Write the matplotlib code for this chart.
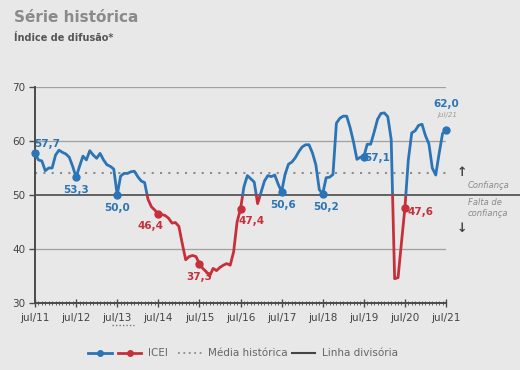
import numpy as np
import matplotlib
matplotlib.use("Agg")
import matplotlib.pyplot as plt
from matplotlib.lines import Line2D

plt.rcParams['font.family'] = ['Liberation Sans Narrow', 'DejaVu Sans']

# ICEI monthly, jul/11 .. jul/21
icei = [57.7, 56.5, 56.3, 54.5, 55.0, 55.0, 57.4, 58.3, 57.9, 57.6, 57.0, 55.3,
        53.3, 55.3, 57.2, 56.5, 58.2, 57.4, 56.8, 57.7, 56.5, 55.6, 55.3, 54.8,
        50.0, 53.5, 54.0, 54.0, 54.3, 54.4, 53.4, 52.6, 52.3, 49.2, 47.8, 47.2,
        46.4, 46.4, 46.2, 45.7, 44.8, 44.9, 44.2, 41.0, 38.0, 38.6, 38.8, 38.6,
        37.3, 36.4, 35.8, 35.0, 36.4, 36.0, 36.6, 37.0, 37.3, 37.0, 39.5, 45.0,
        47.4, 51.5, 53.6, 53.0, 52.4, 48.4, 50.5, 52.6, 53.6, 53.4, 53.7, 52.0,
        50.6, 53.8, 55.7, 56.1, 56.9, 58.0, 58.9, 59.3, 59.3, 57.8, 55.6, 51.0,
        50.2, 53.2, 53.3, 53.8, 63.3, 64.2, 64.6, 64.6, 62.5, 59.8, 56.6, 57.0,
        57.1, 59.4, 59.4, 61.6, 64.0, 65.1, 65.2, 64.5, 60.3, 34.5, 34.7, 41.2,
        47.6, 56.5, 61.5, 61.9, 62.9, 63.1, 61.0, 59.5, 55.0, 53.7, 57.7, 61.4,
        62.0]
tick_labels = ['jul/11', 'jul/12', 'jul/13', 'jul/14', 'jul/15', 'jul/16',
               'jul/17', 'jul/18', 'jul/19', 'jul/20', 'jul/21']
media = 54.0
divisoria = 50.0

blue = '#2b74b6'
red = '#c7303b'
bg = '#e8e8e8'
dark = '#4a4a4a'


def split_runs(x, y, thr):
    runs = []
    side = y[0] >= thr
    xs, ys = [x[0]], [y[0]]
    for i in range(1, len(x)):
        s = y[i] >= thr
        if s != side:
            t = (thr - y[i - 1]) / (y[i] - y[i - 1])
            xc = x[i - 1] + t * (x[i] - x[i - 1])
            xs.append(xc); ys.append(thr)
            runs.append((side, xs, ys))
            xs, ys = [xc], [thr]
            side = s
        xs.append(x[i]); ys.append(y[i])
    runs.append((side, xs, ys))
    return runs


x = np.arange(len(icei))
y = np.array(icei)

fig = plt.figure(figsize=(5.2, 3.7), dpi=100, facecolor=bg)
ax = fig.add_axes([35 / 520, 1 - 303 / 370, 411 / 520, 216 / 370], facecolor=bg)

for v in [40, 60, 70]:
    ax.axhline(v, color='#a0a0a0', lw=0.9, zorder=1)
ax.axhline(media, color='#8c8c8c', lw=1.5, ls=(0, (1, 3)), zorder=1)
ax.axhline(divisoria, xmin=0, xmax=(520 - 35) / 411, color='#3c3c3c', lw=1.1,
           clip_on=False, zorder=2)

for up, xs, ys in split_runs(x, y, divisoria):
    ax.plot(xs, ys, color=blue if up else red, lw=2.0, solid_joinstyle='round',
            solid_capstyle='round', zorder=3, clip_on=False)

# markers and labels every July
offsets = [(12, 9), (0, -13), (0, -13), (-8, -12), (0, -13), (11, -12),
           (1, -13), (3, -13), (13, -1), (16, -4), (0, 26)]
for k, (dx, dy) in enumerate(offsets):
    i = k * 12
    c = blue if y[i] >= divisoria else red
    ax.plot(i, y[i], 'o', color=c, ms=5, zorder=4, clip_on=False)
    ax.annotate(f'{y[i]:.1f}'.replace('.', ','), (i, y[i]), xytext=(dx, dy),
                textcoords='offset pixels', ha='center', va='center',
                color=c, fontsize=7.5, fontweight='bold', zorder=5)
ax.annotate('jul/21', (x[-1], y[-1]), xytext=(2, 15), textcoords='offset pixels',
            ha='center', va='center', color='#9a9a9a', fontsize=5,
            style='italic')

ax.set_xlim(0, 120)
ax.set_ylim(30, 70)
ax.set_xticks(np.arange(0, 121, 12))
ax.set_xticklabels(tick_labels)
ax.set_xticks(np.arange(0, 121, 1), minor=True)
ax.set_yticks([30, 40, 50, 60, 70])
ax.tick_params(axis='x', which='major', direction='inout', length=6, width=1,
               color=dark, labelsize=7.5, labelcolor='#444444', pad=4)
ax.tick_params(axis='x', which='minor', direction='inout', length=3, width=0.6,
               color=dark)
ax.tick_params(axis='y', direction='out', length=4, width=1, color=dark,
               labelsize=7.5, labelcolor='#444444', pad=3)
for s in ['top', 'right']:
    ax.spines[s].set_visible(False)
for s in ['left', 'bottom']:
    ax.spines[s].set_color(dark)
    ax.spines[s].set_linewidth(1.4)

# titles
fig.text(14 / 520, 1 - 18 / 370, 'Série histórica', fontsize=11, color='#8a8a8a',
         fontweight='bold', va='center')
fig.text(14 / 520, 1 - 38 / 370, 'Índice de difusão*', fontsize=7, color='#555555',
         fontweight='bold', va='center')

# right side notes
fig.text(462 / 520, 1 - 172 / 370, '↑', fontsize=9, color='#444444',
         fontweight='bold', ha='center', va='center', family='DejaVu Sans')
fig.text(468 / 520, 1 - 186 / 370, 'Confiança', fontsize=6, color='#8a8a8a',
         style='italic', ha='left', va='center')
fig.text(468 / 520, 1 - 203 / 370, 'Falta de', fontsize=6, color='#8a8a8a',
         style='italic', ha='left', va='center')
fig.text(468 / 520, 1 - 213 / 370, 'confiança', fontsize=6, color='#8a8a8a',
         style='italic', ha='left', va='center')
fig.text(462 / 520, 1 - 228 / 370, '↓', fontsize=9, color='#444444',
         fontweight='bold', ha='center', va='center', family='DejaVu Sans')

# small dotted mark under jul/13
fig.add_artist(Line2D([112 / 520, 134 / 520], [1 - 325 / 370] * 2,
                      color='#777777', lw=1, ls=(0, (1, 1.5))))

# legend
ly = 1 - 353 / 370
fig.add_artist(Line2D([88 / 520, 112 / 520], [ly, ly], color=blue, lw=2))
fig.add_artist(Line2D([100 / 520], [ly], color=blue, lw=0, marker='o', ms=4))
fig.add_artist(Line2D([118 / 520, 141 / 520], [ly, ly], color=red, lw=2))
fig.add_artist(Line2D([129.5 / 520], [ly], color=red, lw=0, marker='o', ms=4))
fig.text(148 / 520, ly, 'ICEI', fontsize=7.5, color='#666666', va='center')
fig.add_artist(Line2D([178 / 520, 203 / 520], [ly, ly], color='#8c8c8c', lw=1.3,
                      ls=(0, (1, 2))))
fig.text(208 / 520, ly, 'Média histórica', fontsize=7.5, color='#666666',
         va='center')
fig.add_artist(Line2D([292 / 520, 315 / 520], [ly, ly], color='#444444', lw=1.5))
fig.text(322 / 520, ly, 'Linha divisória', fontsize=7.5, color='#666666',
         va='center')

fig.savefig('out.png', dpi=100, facecolor=bg)
